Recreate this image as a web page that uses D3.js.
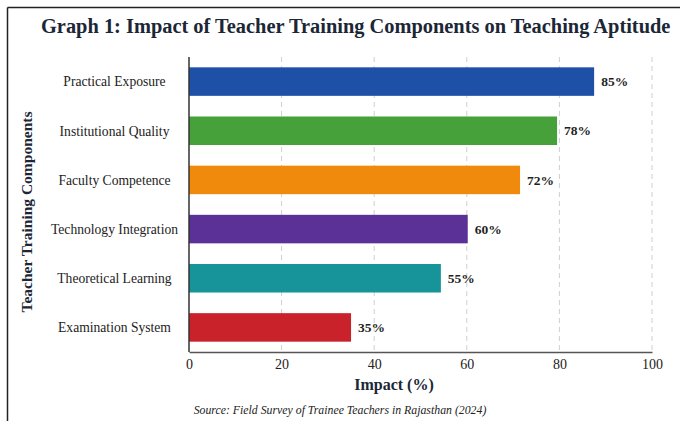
<!DOCTYPE html>
<html lang="en">
<head>
  <meta charset="utf-8">
  <title>Graph 1</title>
  <script src="https://d3js.org/d3.v7.min.js"></script>
  <style>
    body { margin: 0; background: #fff; }
    svg { display: block; font-family: "Liberation Serif", "Times New Roman", serif; }
  </style>
</head>
<body>
  <svg id="chart" width="680" height="421"></svg>
  <script>
    // data
    const components = ["Practical Exposure", "Institutional Quality", "Faculty Competence",
                        "Technology Integration", "Theoretical Learning", "Examination System"];
    const barValues = [87.5, 79.5, 71.5, 60.2, 54.4, 35];
    const valueLabels = ["85%", "78%", "72%", "60%", "55%", "35%"];
    const barColors = ["#1e50a8", "#47a13a", "#f08a0c", "#5c3197", "#17939a", "#c9222b"];
    const xTicks = [0, 20, 40, 60, 80, 100];

    const svg = d3.select("#chart");
    const margin = { top: 57, right: 28, bottom: 69, left: 189 };
    const width = 680, height = 421;

    // frame (top + left edges visible)
    svg.append("line").attr("x1", 7.5).attr("x2", width).attr("y1", 7.5).attr("y2", 7.5)
      .style("stroke", "#222").style("stroke-width", 1.5);
    svg.append("line").attr("x1", 7.5).attr("x2", 7.5).attr("y1", 7.5).attr("y2", height)
      .style("stroke", "#222").style("stroke-width", 1.5);

    let x = d3.scaleLinear()
      .domain([0, 100])
      .range([margin.left, width - margin.right]);

    let y = d3.scaleBand()
      .domain(components)
      .range([margin.top, height - margin.bottom])
      .paddingInner(0.42)
      .paddingOuter(0.21);

    // dashed grid
    svg.append("g")
      .selectAll("line")
      .data(xTicks.filter(d => d > 0))
      .join("line")
      .attr("x1", d => x(d)).attr("x2", d => x(d))
      .attr("y1", margin.top).attr("y2", height - margin.bottom)
      .style("stroke", "#cfcfcf")
      .style("stroke-width", 1)
      .style("stroke-dasharray", "5,4");

    // bars
    svg.append("g")
      .selectAll("rect")
      .data(components)
      .join("rect")
      .attr("x", x(0))
      .attr("y", d => y(d))
      .attr("width", (d, i) => x(barValues[i]) - x(0))
      .attr("height", y.bandwidth())
      .style("fill", (d, i) => barColors[i]);

    // value labels
    svg.append("g")
      .selectAll("text")
      .data(components)
      .join("text")
      .attr("x", (d, i) => x(barValues[i]) + 7)
      .attr("y", d => y(d) + y.bandwidth() / 2)
      .attr("dy", "0.35em")
      .style("font-size", "13.5px")
      .style("font-weight", "bold")
      .style("fill", "#1f1f1f")
      .text((d, i) => valueLabels[i]);

    // x axis
    let xAxis = svg.append("g")
      .attr("transform", `translate(0,${height - margin.bottom})`)
      .call(d3.axisBottom(x).tickValues(xTicks).tickSize(0).tickPadding(7));
    xAxis.select(".domain").style("stroke", "#555").style("stroke-width", 1.5);
    xAxis.selectAll("text")
      .style("font-family", "Liberation Serif, serif")
      .style("font-size", "14px")
      .style("fill", "#222");

    // y axis line
    svg.append("line")
      .attr("x1", x(0)).attr("x2", x(0))
      .attr("y1", margin.top).attr("y2", height - margin.bottom)
      .style("stroke", "#333").style("stroke-width", 1.5);

    // category labels (centred in the left column)
    svg.append("g")
      .selectAll("text")
      .data(components)
      .join("text")
      .attr("x", 114.5)
      .attr("y", d => y(d) + y.bandwidth() / 2)
      .attr("dy", "0.35em")
      .attr("text-anchor", "middle")
      .style("font-size", "13.6px")
      .style("fill", "#222")
      .text(d => d);

    // titles
    svg.append("text")
      .attr("x", 41)
      .attr("y", 33)
      .style("font-size", "20.4px")
      .style("font-weight", "bold")
      .style("fill", "#1b2736")
      .text("Graph 1: Impact of Teacher Training Components on Teaching Aptitude");

    svg.append("text")
      .attr("x", 394)
      .attr("y", 390)
      .attr("text-anchor", "middle")
      .style("font-size", "16px")
      .style("font-weight", "bold")
      .style("fill", "#1b2736")
      .text("Impact (%)");

    svg.append("text")
      .attr("transform", "translate(32,212) rotate(-90)")
      .attr("text-anchor", "middle")
      .style("font-size", "15.5px")
      .style("font-weight", "bold")
      .style("fill", "#1b2736")
      .text("Teacher Training Components");

    svg.append("text")
      .attr("x", 340)
      .attr("y", 414)
      .attr("text-anchor", "middle")
      .style("font-size", "11.8px")
      .style("font-style", "italic")
      .style("fill", "#222")
      .text("Source: Field Survey of Trainee Teachers in Rajasthan (2024)");
  </script>
</body>
</html>
